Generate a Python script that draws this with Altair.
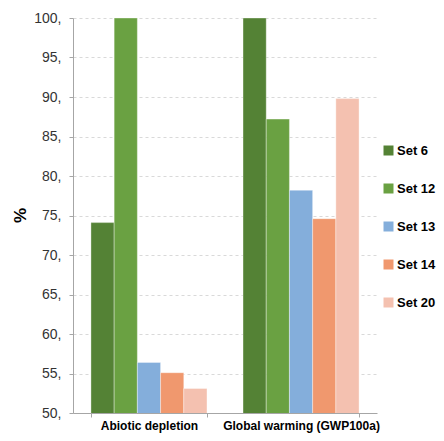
import altair as alt
import pandas as pd

categories = ["Abiotic depletion", "Global warming (GWP100a)"]
sets = ["Set 6", "Set 12", "Set 13", "Set 14", "Set 20"]
abiotic = [74.1, 100.0, 56.4, 55.1, 53.1]
global_warming = [100.0, 87.2, 78.2, 74.6, 89.8]
colors = ["#548235", "#6aa142", "#84aedb", "#f0986e", "#f4c1b0"]
y_ticks = [50, 55, 60, 65, 70, 75, 80, 85, 90, 95, 100]

rows = []
for s, a, g in zip(sets, abiotic, global_warming):
    rows.append({"category": categories[0], "set": s, "value": a})
    rows.append({"category": categories[1], "set": s, "value": g})
df = pd.DataFrame(rows)

font = "Liberation Sans"

chart = alt.Chart(df).mark_bar(stroke="#ffffff", strokeWidth=0.6, strokeOpacity=0.6, clip=True).encode(
    x=alt.X("category:N", sort=categories, title=None,
            scale=alt.Scale(paddingInner=0.237, paddingOuter=0.118),
            axis=alt.Axis(labelAngle=0, labelFont=font, labelFontSize=12, labelFontWeight="bold",
                          labelColor="#000000", labelPadding=3, labelBaseline="top",
                          domainColor="#a6a6a6",
                          tickColor="#a6a6a6", tickSize=4, tickBand="extent", grid=False)),
    xOffset=alt.XOffset("set:N", sort=sets, scale=alt.Scale(paddingInner=0, paddingOuter=0)),
    y=alt.Y("value:Q", title="%",
            scale=alt.Scale(domain=[50, 100], nice=False, zero=False),
            axis=alt.Axis(values=y_ticks, labelExpr="datum.label + ','", labelFont=font,
                          labelFontSize=14, labelColor="#333333", labelPadding=8,
                          domainColor="#a6a6a6", tickColor="#a6a6a6", tickSize=4,
                          grid=True, gridColor="#d9d9d9", gridDash=[3, 3],
                          titleFont=font, titleFontSize=17, titleFontWeight="bold",
                          titleColor="#000000", titleAngle=270, titleX=-53, titleY=197,
                          titleAlign="center", titleBaseline="middle")),
    color=alt.Color("set:N", sort=sets, scale=alt.Scale(domain=sets, range=colors),
                    legend=alt.Legend(title=None, orient="none", legendX=309, legendY=126,
                                      symbolType="square", symbolSize=100, symbolStrokeWidth=0,
                                      labelFont=font, labelFontSize=13, labelFontWeight="bold",
                                      labelColor="#000000", rowPadding=24, padding=0,
                                      labelOffset=2, labelLimit=60)),
).properties(
    width=304, height=395,
    autosize=alt.AutoSizeParams(type="none"),
    padding={"left": 65, "top": 10, "right": 59, "bottom": 20},
).configure_view(stroke=None)

chart.save("out.html", embed_options={"renderer": "svg", "actions": False})
